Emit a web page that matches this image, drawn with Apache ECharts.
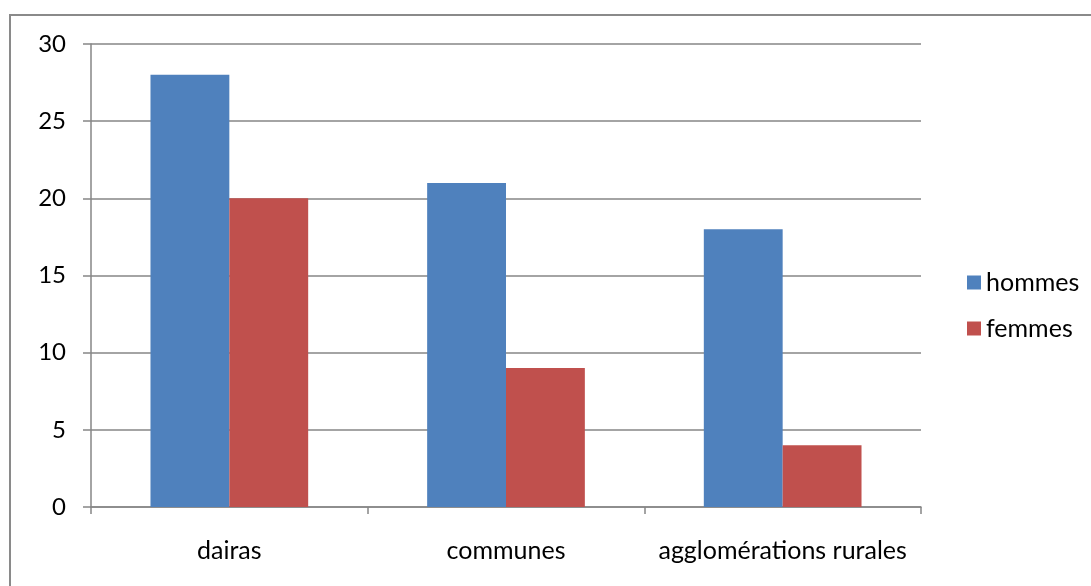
<!DOCTYPE html>
<html>
<head>
<meta charset="utf-8">
<script src="https://cdn.jsdelivr.net/npm/echarts@6/dist/echarts.min.js"></script>
<style>
  html, body { margin: 0; padding: 0; background: #fff; }
  #chart { width: 1091px; height: 586px; }
</style>
</head>
<body>
<div id="chart"></div>
<script>
// Categories and values per group
const categories = ['dairas', 'communes', 'agglomérations rurales'];
const hommes = [28, 21, 18];
const femmes = [20, 9, 4];
const yTicks = { min: 0, max: 30, interval: 5 };

const font = 'Lato, "Open Sans", sans-serif';
const gridGray = '#868686';

const chart = echarts.init(document.getElementById('chart'), null, { renderer: 'canvas' });
chart.setOption({
  backgroundColor: '#fff',
  animation: false,
  graphic: [{
    type: 'rect',
    shape: { x: 10, y: 15, width: 1100, height: 600 },
    style: { fill: 'none', stroke: '#8a8a8a', lineWidth: 2 }
  }],
  grid: { left: 91, top: 44, right: 170, bottom: 79 },
  legend: {
    orient: 'vertical',
    left: 962,
    top: 265,
    itemWidth: 14,
    itemHeight: 14,
    itemGap: 21,
    icon: 'rect',
    textStyle: { fontFamily: font, fontSize: 25, color: '#000', padding: [0, 0, 0, 0] },
    data: ['hommes', 'femmes']
  },
  xAxis: {
    type: 'category',
    data: categories,
    axisLine: { lineStyle: { color: gridGray, width: 1.5 } },
    axisTick: { show: true, length: 7, lineStyle: { color: gridGray, width: 1.5 } },
    axisLabel: { interval: 0, hideOverlap: false, fontFamily: font, fontSize: 25, color: '#000', margin: 31 }
  },
  yAxis: {
    type: 'value',
    min: yTicks.min,
    max: yTicks.max,
    interval: yTicks.interval,
    axisLine: { show: true, lineStyle: { color: gridGray, width: 1.5 } },
    axisTick: { show: true, length: 8, lineStyle: { color: gridGray, width: 1.5 } },
    splitLine: { lineStyle: { color: gridGray, width: 1.5 } },
    axisLabel: { fontFamily: font, fontSize: 24, color: '#000', margin: 25 }
  },
  series: [
    {
      name: 'hommes', type: 'bar', data: hommes,
      barGap: '0%', barCategoryGap: '43%',
      itemStyle: { color: '#4F81BD' }
    },
    {
      name: 'femmes', type: 'bar', data: femmes,
      barGap: '0%', barCategoryGap: '43%',
      itemStyle: { color: '#C0504D' }
    }
  ]
});
</script>
</body>
</html>
